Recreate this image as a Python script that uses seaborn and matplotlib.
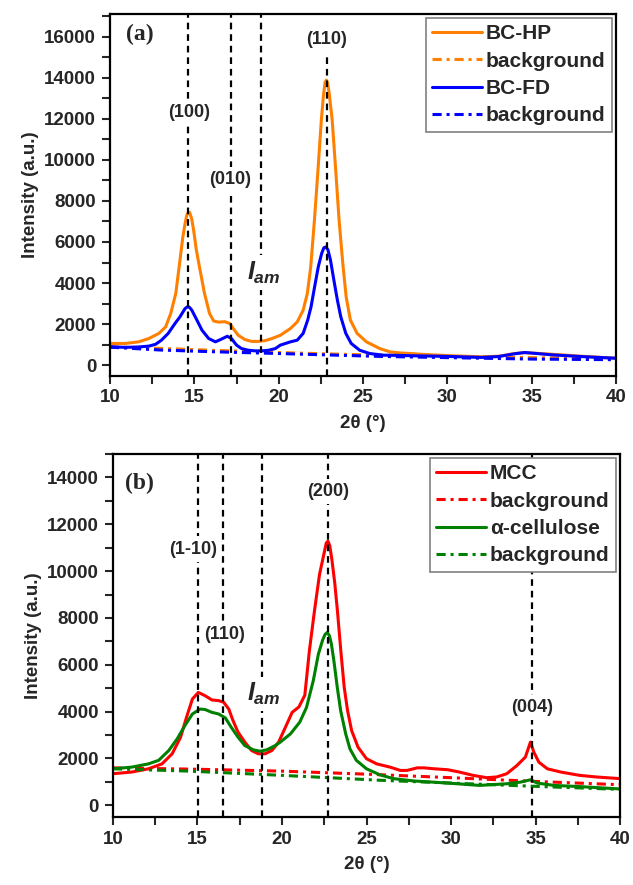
import numpy as np
import pandas as pd
import matplotlib
matplotlib.use("Agg")
import matplotlib.pyplot as plt
from matplotlib.ticker import MultipleLocator
import seaborn as sns

# ---- panel (a): BC-HP / BC-FD ----
hp_x = [10, 10.9, 11.7, 12.3, 12.9, 13.3, 13.6, 13.9, 14.1, 14.32, 14.45, 14.55, 14.65, 14.72,
        14.85, 14.97, 15.12, 15.3, 15.6, 15.9, 16.15, 16.45, 16.8, 17.1, 17.3, 17.6, 18.0,
        18.4, 18.8, 19.2, 19.6, 20.1, 20.7, 21.1, 21.45, 21.7, 21.9, 22.12, 22.33, 22.53,
        22.65, 22.75, 22.83, 22.9, 23.0, 23.17, 23.38, 23.58, 23.8, 24.0, 24.25, 24.65, 25.2,
        26.0, 26.6, 27.2, 28.0, 28.5, 30.0, 32.0, 33.1, 33.9, 34.5, 35.3, 36.3, 37.9, 40.0]
hp_y = [1060, 1060, 1140, 1300, 1550, 1870, 2520, 3500, 4800, 6260, 6900, 7300, 7460, 7440,
        7100, 6500, 5600, 4800, 3500, 2520, 2150, 2100, 2120, 2030, 1790, 1460, 1250,
        1160, 1160, 1200, 1300, 1460, 1790, 2110, 2680, 3500, 4800, 7070, 9510, 11950,
        13100, 13780, 13880, 13750, 13200, 11950, 9510, 7070, 4960, 3330, 2200, 1550, 1140,
        810, 650, 600, 560, 530, 470, 410, 440, 560, 610, 580, 530, 440, 340]

fd_x = [10, 10.9, 11.7, 12.3, 12.7, 13.05, 13.45, 13.85, 14.15, 14.45, 14.58, 14.7, 14.85,
        15.15, 15.45, 15.85, 16.25, 16.55, 16.95, 17.2, 17.5, 17.8, 18.2, 18.6, 19.0, 19.4,
        19.8, 20.1, 20.7, 21.1, 21.45, 21.72, 21.92, 22.13, 22.35, 22.55, 22.68, 22.8, 22.92,
        23.07, 23.27, 23.48, 23.68, 23.98, 24.3, 24.8, 25.4, 26.2, 27.0, 28.0, 30.0, 32.0,
        33.0, 34.0, 34.6, 35.3, 36.3, 38.0, 40.0]
fd_y = [900, 870, 890, 930, 1020, 1220, 1550, 2030, 2360, 2760, 2840, 2830, 2680,
        2200, 1710, 1300, 1140, 1250, 1410, 1300, 980, 810, 730, 700, 700, 730,
        810, 980, 1140, 1220, 1550, 2200, 2850, 3820, 4800, 5450, 5720, 5760, 5620,
        5120, 4150, 3170, 2360, 1550, 1060, 730, 570, 490, 480, 460, 430, 380,
        420, 560, 620, 570, 500, 420, 340]

bg_a_x = [10, 13, 16, 20, 23, 26, 30, 35, 40]
hp_bg_y = [900, 820, 730, 620, 550, 490, 430, 370, 320]
fd_bg_y = [880, 740, 660, 570, 500, 430, 370, 300, 270]

peaks_a = [14.64, 17.17, 18.95, 22.85]

# ---- panel (b): MCC / alpha-cellulose ----
mcc_x = [10, 11.1, 12.1, 12.9, 13.5, 14.0, 14.35, 14.7, 15.05, 15.45, 15.85, 16.25, 16.55,
         16.85, 17.1, 17.4, 17.8, 18.2, 18.6, 19.0, 19.4, 19.8, 20.2, 20.6, 21.0, 21.35, 21.62,
         21.92, 22.22, 22.5, 22.62, 22.72, 22.82, 22.95, 23.12, 23.28, 23.48, 23.68, 23.88, 24.12,
         24.5, 25.0, 25.6, 26.4, 27.0, 27.4, 28.0, 28.4, 29.0, 29.8, 30.5, 31.3, 32.1, 32.7,
         33.3, 33.9, 34.4, 34.7, 34.9, 35.2, 35.7, 36.5, 37.6, 38.6, 40.0]
mcc_y = [1350, 1420, 1560, 1770, 2200, 2910, 3760, 4540, 4820, 4680, 4500, 4470, 4400,
         4110, 3620, 3120, 2700, 2340, 2200, 2200, 2340, 2700, 3330, 3970, 4200, 4700, 6600,
         8300, 9860, 10800, 11200, 11280, 11100, 10500, 9500, 8300, 6600, 5040, 4040, 3190,
         2480, 1990, 1770, 1630, 1490, 1490, 1600, 1600, 1560, 1520, 1420, 1280, 1180, 1210,
         1350, 1700, 2060, 2700, 2270, 1840, 1560, 1420, 1280, 1210, 1140]

acel_x = [10, 11.1, 12.1, 12.7, 13.3, 13.8, 14.25, 14.7, 15.15, 15.45, 15.85, 16.25, 16.65,
          17.0, 17.4, 17.8, 18.3, 18.7, 19.1, 19.6, 19.9, 20.5, 21.05, 21.45, 21.85, 22.15,
          22.4, 22.55, 22.68, 22.8, 22.92, 23.07, 23.27, 23.47, 23.77, 24.02, 24.4, 25.0, 25.8,
          26.6, 27.8, 29.8, 31.7, 33.3, 34.1, 34.7, 35.1, 36.1, 37.6, 40.0]
acel_y = [1560, 1630, 1770, 1920, 2340, 2840, 3400, 3900, 4110, 4090, 3970, 3900, 3730,
          3330, 2910, 2550, 2370, 2310, 2370, 2550, 2700, 3050, 3550, 4180, 5320, 6450,
          7050, 7300, 7380, 7250, 6900, 6170, 5040, 4040, 3050, 2410, 1920, 1560, 1300,
          1140, 1040, 950, 850, 920, 990, 1090, 950, 850, 800, 700]

mcc_bg_x = [10, 15, 20, 25, 30, 35, 40]
mcc_bg_y = [1600, 1540, 1460, 1330, 1180, 1020, 880]
acel_bg_x = [10, 14.5, 20, 25.8, 30, 35, 40]
acel_bg_y = [1560, 1460, 1280, 1070, 950, 810, 680]

peaks_b = [15.01, 16.49, 18.8, 22.7, 34.77]

sns.set_style("ticks")
plt.rcParams['font.family'] = ['Liberation Sans', 'DejaVu Sans']
plt.rcParams['font.weight'] = 'bold'
plt.rcParams['mathtext.fontset'] = 'custom'
plt.rcParams['mathtext.it'] = 'Liberation Sans:italic:bold'
plt.rcParams['mathtext.rm'] = 'Liberation Sans:bold'

bg_style = (0, (3, 1.6, 1, 1.6))
vline_style = (0, (3, 2.2))
bbox = dict(facecolor='white', edgecolor='none', pad=3)
lw = 2.2

fig = plt.figure(figsize=(6.33, 8.85), dpi=100)
ax1 = fig.add_axes([0.1738, 0.5757, 0.7994, 0.4085])
ax2 = fig.add_axes([0.1785, 0.0768, 0.8010, 0.4102])

# (a)
sns.lineplot(x=hp_x, y=hp_y, ax=ax1, color='#FF8000', linewidth=lw, label='BC-HP', sort=False)
sns.lineplot(x=bg_a_x, y=hp_bg_y, ax=ax1, color='#FF8000', linewidth=lw, linestyle=bg_style,
             label='background', sort=False)
sns.lineplot(x=fd_x, y=fd_y, ax=ax1, color='#0000FF', linewidth=lw, label='BC-FD', sort=False)
sns.lineplot(x=bg_a_x, y=fd_bg_y, ax=ax1, color='#0000FF', linewidth=lw, linestyle=bg_style,
             label='background', sort=False)
for i, p in enumerate(peaks_a):
    ax1.axvline(p, color='black', linestyle=vline_style, linewidth=1.6, zorder=4,
                ymax=0.89 if i == 3 else 1)

ax1.text(14.7, 12280, '(100)', ha='center', va='center', fontsize=13, fontweight='bold', bbox=bbox, zorder=5)
ax1.text(17.11, 9020, '(010)', ha='center', va='center', fontsize=13, fontweight='bold', bbox=bbox, zorder=5)
ax1.text(22.85, 15850, '(110)', ha='center', va='center', fontsize=13, fontweight='bold', bbox=bbox, zorder=5)
ax1.text(19.1, 4500, r'$I_{am}$', ha='center', va='center', fontsize=18, bbox=bbox, zorder=5)
ax1.text(11.74, 16100, '(a)', ha='center', va='center', fontsize=17, fontweight='bold',
         family='Liberation Serif', zorder=5)

ax1.set_xlim(10, 40)
ax1.set_ylim(-500, 17100)

# (b)
sns.lineplot(x=mcc_x, y=mcc_y, ax=ax2, color='#FF0000', linewidth=lw, label='MCC', sort=False)
sns.lineplot(x=mcc_bg_x, y=mcc_bg_y, ax=ax2, color='#FF0000', linewidth=lw, linestyle=bg_style,
             label='background', sort=False)
sns.lineplot(x=acel_x, y=acel_y, ax=ax2, color='#008000', linewidth=lw, label='α-cellulose', sort=False)
sns.lineplot(x=acel_bg_x, y=acel_bg_y, ax=ax2, color='#008000', linewidth=lw, linestyle=bg_style,
             label='background', sort=False)
for p in peaks_b:
    ax2.axvline(p, color='black', linestyle=vline_style, linewidth=1.6, zorder=4)

ax2.text(14.72, 10940, '(1-10)', ha='center', va='center', fontsize=13, fontweight='bold', bbox=bbox, zorder=5)
ax2.text(16.63, 7300, '(110)', ha='center', va='center', fontsize=13, fontweight='bold', bbox=bbox, zorder=5)
ax2.text(22.75, 13400, '(200)', ha='center', va='center', fontsize=13, fontweight='bold', bbox=bbox, zorder=5)
ax2.text(34.77, 4180, '(004)', ha='center', va='center', fontsize=13, fontweight='bold', bbox=bbox, zorder=5)
ax2.text(18.9, 4750, r'$I_{am}$', ha='center', va='center', fontsize=18, bbox=bbox, zorder=5)
ax2.text(11.56, 13760, '(b)', ha='center', va='center', fontsize=17, fontweight='bold',
         family='Liberation Serif', zorder=5)

ax2.set_xlim(10, 40)
ax2.set_ylim(-500, 15000)

for ax in (ax1, ax2):
    ax.xaxis.set_major_locator(MultipleLocator(5))
    ax.xaxis.set_minor_locator(MultipleLocator(2.5))
    ax.yaxis.set_major_locator(MultipleLocator(2000))
    ax.yaxis.set_minor_locator(MultipleLocator(1000))
    ax.tick_params(which='major', direction='out', length=6, width=1.5, labelsize=13.5, pad=4)
    ax.tick_params(which='minor', direction='out', length=6, width=1.5)
    for lab in ax.get_xticklabels() + ax.get_yticklabels():
        lab.set_fontweight('bold')
    for s in ax.spines.values():
        s.set_visible(True)
        s.set_linewidth(1.6)
        s.set_color('black')
    ax.set_xlabel('2θ (°)', fontsize=13.5, fontweight='bold', labelpad=6)
    ax.set_ylabel('Intensity (a.u.)', fontsize=13.5, fontweight='bold', labelpad=4)
    leg = ax.legend(loc='upper right', fontsize=15, frameon=True, fancybox=False, framealpha=1,
                    edgecolor='#808080', borderaxespad=0.2, handlelength=2.4, handletextpad=0.2,
                    labelspacing=0.4, borderpad=0.3)
    leg.get_frame().set_linewidth(1.2)
    for t in leg.get_texts():
        t.set_fontweight('bold')
    leg.set_zorder(10)

fig.savefig('out.png', dpi=100)
